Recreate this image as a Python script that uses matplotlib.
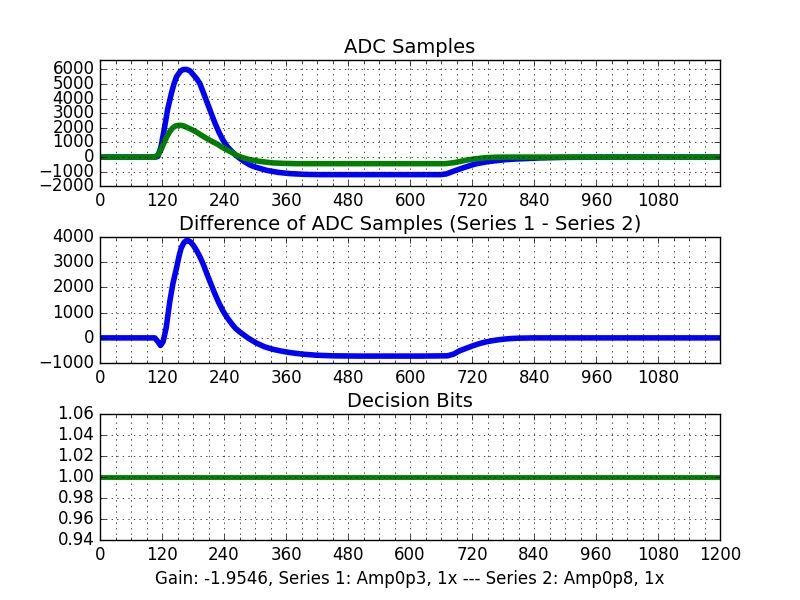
import matplotlib
matplotlib.use("Agg")
import matplotlib.pyplot as plt
from matplotlib.ticker import MultipleLocator

plt.style.use('classic')

# series 1 (blue) and series 2 (green)
s1_x = [0, 100, 108, 112, 118, 125, 131, 138, 143, 148, 155, 160, 167, 174, 180,
        187, 193, 200, 207, 215, 222, 230, 238, 246, 255, 262, 270, 280, 290, 300,
        322, 345, 367, 395, 424, 480, 540, 600, 659, 670, 685, 707, 725, 746, 765,
        785, 805, 826, 850, 900, 1000, 1100, 1199]
s1_y = [0, 0, 0, 50, 700, 2060, 3300, 4350, 5000, 5490, 5850, 5980, 6000, 5900, 5650,
        5350, 5040, 4400, 3750, 3000, 2350, 1700, 1150, 720, 380, 150, -80, -330, -540, -680,
        -905, -1050, -1130, -1180, -1200, -1200, -1200, -1200, -1200, -1150, -950, -680, -480, -335, -250,
        -175, -130, -100, -60, -20, 0, 0, 0]

s2_x = [0, 100, 106, 112, 118, 124, 129, 135, 140, 146, 154, 162, 170, 178, 186,
        195, 205, 215, 225, 235, 245, 255, 264, 275, 290, 310, 334, 355, 380, 420,
        500, 600, 668, 685, 707, 725, 746, 765, 785, 820, 900, 1000, 1100, 1199]
s2_y = [0, 0, 0, 150, 500, 1000, 1380, 1750, 1980, 2130, 2180, 2130, 2000, 1870, 1720,
        1520, 1300, 1100, 925, 700, 500, 320, 120, -30, -180, -300, -400, -430, -450, -450,
        -450, -450, -450, -380, -220, -120, -40, -10, 0, 0, 0, 0, 0, 0]

# difference panel
diff_x = [0, 100, 106, 112, 117, 122, 128, 135, 141, 148, 153, 157, 162, 166, 170,
          175, 181, 187, 193, 200, 207, 215, 222, 230, 238, 246, 255, 262, 270, 286,
          302, 318, 334, 350, 367, 390, 418, 450, 500, 560, 620, 672, 684, 695, 707,
          720, 733, 746, 762, 778, 795, 810, 840, 900, 1000, 1100, 1199]
diff_y = [0, 0, 0, -150, -300, -150, 400, 1450, 2150, 2770, 3250, 3555, 3760, 3840, 3850,
          3800, 3650, 3450, 3220, 2900, 2520, 2110, 1750, 1380, 1060, 800, 550, 380, 240, 0,
          -200, -350, -450, -520, -580, -640, -685, -710, -720, -720, -720, -710, -640, -515, -420,
          -320, -230, -160, -100, -55, -25, -10, 0, 0, 0, 0, 0]

# decision bits
bits_x = [0, 1199]
bits_y = [1, 1]

fig = plt.figure(figsize=(8, 6), facecolor='white')
fig.subplots_adjust(left=0.125, right=0.9, bottom=0.1, top=0.9, hspace=0.4)

ax1 = fig.add_subplot(3, 1, 1)
ax1.plot(s1_x, s1_y, color='b', lw=4)
ax1.plot(s2_x, s2_y, color='g', lw=4)
ax1.set_xlim(0, 1199)
ax1.set_ylim(-2000, 6640)
ax1.yaxis.set_major_locator(MultipleLocator(1000))
ax1.set_title('ADC Samples', fontsize=14)

ax2 = fig.add_subplot(3, 1, 2)
ax2.plot(diff_x, diff_y, color='b', lw=4)
ax2.set_xlim(0, 1199)
ax2.set_ylim(-1000, 4000)
ax2.yaxis.set_major_locator(MultipleLocator(1000))
ax2.set_title('Difference of ADC Samples (Series 1 - Series 2)', fontsize=14)

ax3 = fig.add_subplot(3, 1, 3)
ax3.plot(bits_x, bits_y, color='g', lw=3.5)
ax3.set_xlim(0, 1200)
ax3.set_ylim(0.94, 1.06)
ax3.yaxis.set_major_locator(MultipleLocator(0.02))
ax3.set_title('Decision Bits', fontsize=14)
ax3.set_xlabel('Gain: -1.9546, Series 1: Amp0p3, 1x --- Series 2: Amp0p8, 1x', fontsize=12)

for ax in (ax1, ax2, ax3):
    ax.xaxis.set_major_locator(MultipleLocator(120))
    ax.xaxis.set_minor_locator(MultipleLocator(30))
    ax.grid(True, which='both', color='k', linestyle=':', linewidth=0.5)
    ax.tick_params(labelsize=12)

fig.savefig('out.png', dpi=100, facecolor='white')
